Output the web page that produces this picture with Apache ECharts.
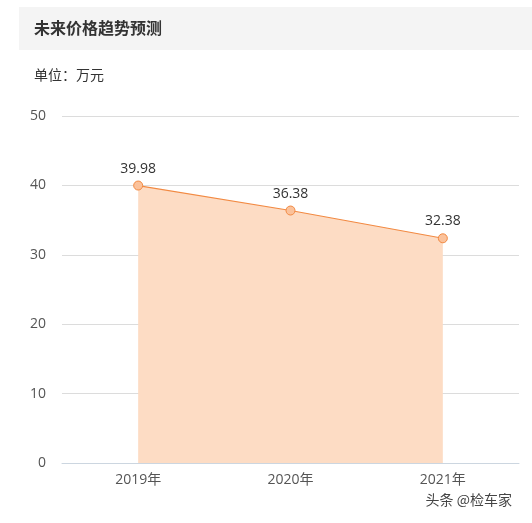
<!DOCTYPE html>
<html><head><meta charset="utf-8">
<script src="https://cdn.jsdelivr.net/npm/echarts@6/dist/echarts.min.js"></script>
<style>html,body{margin:0;padding:0;background:#fff}#c{width:532px;height:523px}</style>
</head><body><div id="c"></div>
<script>
const categories = ['2019年', '2020年', '2021年'];
const prices = [39.98, 36.38, 32.38];
const yTicks = { min: 0, max: 50, interval: 10 };

const chart = echarts.init(document.getElementById('c'));
chart.setOption({
  backgroundColor: '#fff',
  animation: false,
  graphic: [
    { type: 'rect', shape: { x: 19, y: 7, width: 513, height: 43 }, style: { fill: '#f4f4f4' }, z: 0 },
    { type: 'text', left: 34, top: 20, style: { text: '未来价格趋势预测', font: 'bold 16px "Noto Sans CJK SC"', fill: '#333' } },
    { type: 'text', left: 34, top: 68, style: { text: '单位：万元', font: '14px "Noto Sans CJK SC"', fill: '#333' } },
    { type: 'text', right: 20, top: 493, style: { text: '头条 @检车家', font: '14px "Noto Sans CJK SC"', fill: '#444' } }
  ],
  grid: { left: 62, right: 13, top: 116, bottom: 60 },
  xAxis: {
    type: 'category',
    data: categories,
    boundaryGap: true,
    axisLine: { lineStyle: { color: '#ccd6e0' } },
    axisTick: { lineStyle: { color: '#ccd6e0' }, length: 6 },
    axisLabel: { color: '#555', fontSize: 14, margin: 10, fontFamily: 'Open Sans, "Noto Sans CJK SC"' }
  },
  yAxis: {
    type: 'value',
    min: yTicks.min, max: yTicks.max, interval: yTicks.interval,
    axisLine: { show: false },
    axisTick: { show: false },
    splitLine: { lineStyle: { color: '#dcdcdc' } },
    axisLabel: { color: '#555', fontSize: 14, margin: 16, fontFamily: 'Open Sans, sans-serif' }
  },
  series: [{
    type: 'line',
    data: prices,
    symbol: 'circle',
    symbolSize: 9,
    lineStyle: { color: '#f28a43', width: 1.2 },
    itemStyle: { color: '#fbc29b', borderColor: '#f28a43', borderWidth: 1 },
    areaStyle: { color: '#fddcc4', opacity: 1 },
    label: { show: true, position: 'top', distance: 5, color: '#333', fontSize: 14, fontFamily: 'Open Sans, sans-serif' }
  }]
});
</script></body></html>
